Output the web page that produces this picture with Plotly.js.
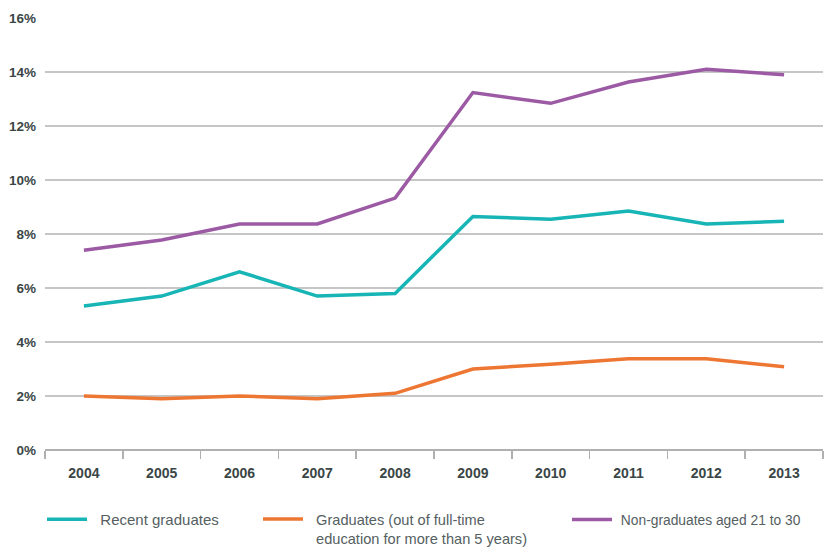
<!DOCTYPE html>
<html><head><meta charset="utf-8">
<script src="https://cdn.plot.ly/plotly-3.0.1.min.js"></script>
<style>html,body{margin:0;padding:0;background:#fff}#c{width:826px;height:548px}</style>
</head><body><div id="c"></div>
<script>
const years = ['2004','2005','2006','2007','2008','2009','2010','2011','2012','2013'];
const recentGraduates = [5.33, 5.7, 6.6, 5.7, 5.8, 8.65, 8.55, 8.85, 8.37, 8.47];
const graduates = [2.0, 1.9, 2.0, 1.9, 2.1, 3.0, 3.18, 3.38, 3.38, 3.08];
const nonGraduates = [7.4, 7.78, 8.37, 8.37, 9.33, 13.24, 12.84, 13.63, 14.1, 13.9];
const names = ['Recent graduates', 'Graduates (out of full-time<br>education for more than 5 years)', 'Non-graduates aged 21 to 30'];

const NB = '\u00a0';
const pads = [NB + NB, NB + NB, NB];
const colors = ['#17b5b6', '#ee7633', '#9b5aa3'];
const data = [recentGraduates, graduates, nonGraduates].map((v, i) => ({
  x: years, y: v,
  name: names[i].split('<br>').map(s => pads[i] + s).join('<br>'),
  type: 'scatter', mode: 'lines',
  line: {color: colors[i], width: 3.5},
  legend: i === 0 ? 'legend' : 'legend' + (i + 1)
}));

const legFont = (s) => ({family: 'Liberation Sans, Arial, sans-serif', size: s, color: '#55605f'});
const legBase = {xref: 'container', yref: 'container', xanchor: 'left', yanchor: 'top',
  itemwidth: 40, bgcolor: 'rgba(0,0,0,0)', tracegroupgap: 0, valign: 'top'};
const layout = {
  width: 826, height: 548,
  margin: {l: 45, r: 3, t: 18, b: 98, autoexpand: false},
  paper_bgcolor: '#fff', plot_bgcolor: '#fff',
  font: {family: 'Liberation Sans, Arial, sans-serif', color: '#3a4646'},
  xaxis: {
    type: 'category', range: [-0.5, 9.5], tickson: 'boundaries', ticks: 'outside', ticklen: 8,
    tickcolor: '#b0b0b0', tickwidth: 1.5,
    showgrid: false, showline: false, zeroline: false, automargin: false, tickangle: 0,
    tickfont: {size: 14, color: '#3a4646', weight: 'bold'}, ticklabelstandoff: 13
  },
  yaxis: {
    range: [0, 16], dtick: 2, ticksuffix: '%', showgrid: true, gridcolor: '#c6c6c6', gridwidth: 1.5,
    zeroline: true, zerolinecolor: '#b0b0b0', zerolinewidth: 1.5, showline: false, automargin: false,
    tickfont: {size: 13.5, color: '#3a4646', weight: 'bold'}, ticklabelstandoff: 8
  },
  showlegend: true,
  legend: Object.assign({}, legBase, {font: legFont(15), x: 42/826, y: 1 - 503/548}),
  legend2: Object.assign({}, legBase, {font: legFont(14.6), x: 258/826, y: 1 - 503/548}),
  legend3: Object.assign({}, legBase, {font: legFont(13.8), x: 567/826, y: 1 - 504/548})
};
Plotly.newPlot('c', data, layout, {displayModeBar: false, staticPlot: true});
</script></body></html>
